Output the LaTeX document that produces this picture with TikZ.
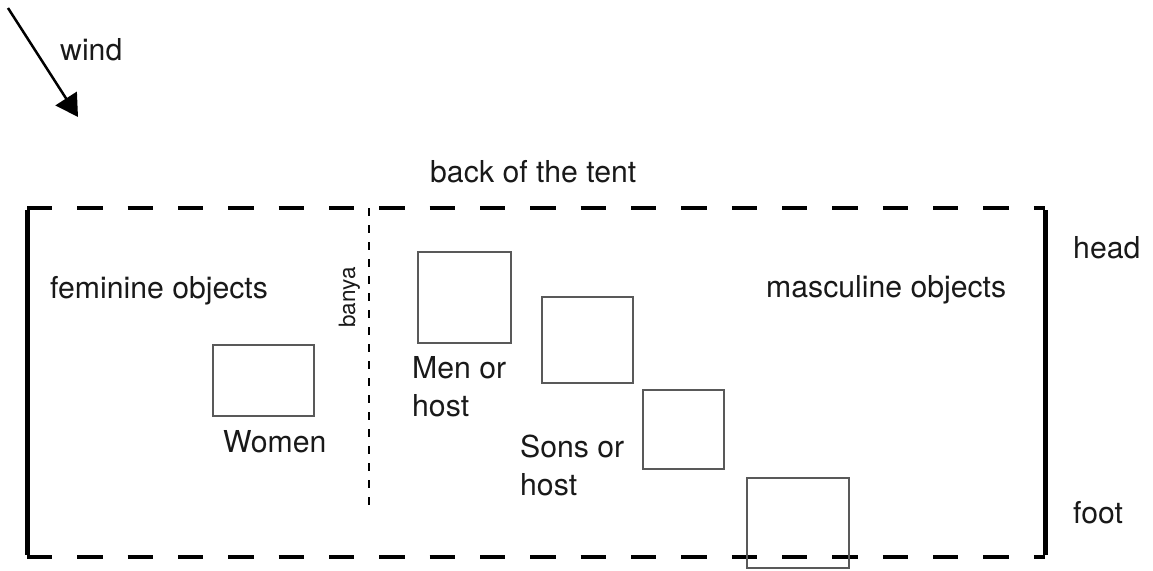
\documentclass[tikz,border=0pt]{standalone}
\usepackage{fontspec}
\setmainfont{TeX Gyre Heros}
\usetikzlibrary{arrows.meta}

\tikzset{
  lbl/.style={inner sep=0pt, anchor=base west, text=black!90,
              font=\fontsize{30.2}{38}\selectfont, align=left},
  smalllbl/.style={inner sep=0pt, anchor=base west, text=black!90,
              font=\fontsize{22.5}{26}\selectfont},
  seat/.style={draw=black!65, line width=1.5pt, inner sep=0pt, fill=none},
  tentedge/.style={line width=3.5pt, dash pattern=on 25.17pt off 25.17pt},
  bracketbar/.style={line width=5pt},
  divider/.style={line width=1.3pt, dash pattern=on 8pt off 9pt},
  windarrow/.style={line width=2.5pt, -{Triangle[length=22pt,width=25pt]}}
}

\begin{document}
\begin{tikzpicture}[x=1pt, y=-1pt]
  \path[use as bounding box] (0,0) rectangle (1153,570);

  % wind direction
  \coordinate (windtail) at (8,8);
  \coordinate (windtip) at (78,117);
  \draw[windarrow] (windtail) -- (windtip);
  \node[lbl] (wind) at (60,60) {wind};

  % tent outline: dashed long sides, solid head and foot
  \coordinate (tl) at (27,208);
  \coordinate (tr) at (1045,208);
  \coordinate (bl) at (27,557);
  \coordinate (br) at (1045,557);
  \draw[tentedge] (tl) -- (tr);
  \draw[tentedge] (bl) -- (br);
  \draw[bracketbar] ([yshift=-2pt]tl) -- ([yshift=2pt]bl);
  \draw[bracketbar] ([yshift=-2pt]tr) -- ([yshift=2pt]br);

  % banya divider
  \coordinate (divtop) at (369,208);
  \coordinate (divbot) at (369,508);
  \draw[divider] (divtop) -- (divbot);
  \node[smalllbl, rotate=90] (banya) at (355,328) {banya};

  % labels
  \node[lbl] (back) at (430,182) {back of the tent};
  \node[lbl] (fem) at (50,298) {feminine objects};
  \node[lbl] (masc) at (766,297) {masculine objects};
  \node[lbl] (head) at (1073,258) {head};
  \node[lbl] (foot) at (1073,523) {foot};

  % seating places
  \node[seat, minimum width=101pt, minimum height=71pt] (women) at (263.5,380.5) {};
  \node[seat, minimum width=93pt, minimum height=91pt] (men) at (464.5,297.5) {};
  \node[seat, minimum width=91pt, minimum height=86pt] (seat2) at (587.5,340) {};
  \node[seat, minimum width=81pt, minimum height=79pt] (seat3) at (683.5,429.5) {};
  \node[seat, minimum width=102pt, minimum height=90pt] (seat4) at (798,523) {};

  % multi-line labels sit on the baseline of their last line
  \node[lbl] (womenlbl) at (223,452) {Women};
  \node[lbl] (menlbl) at (412,416) {Men or\\host};
  \node[lbl] (sonslbl) at (520,495) {Sons or\\host};
\end{tikzpicture}
\end{document}
